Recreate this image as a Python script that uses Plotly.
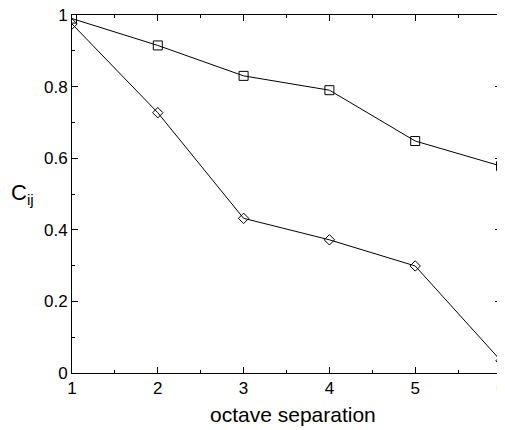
import plotly.graph_objects as go

octave = [1, 2, 3, 4, 5, 6]
squares = [0.99, 0.915, 0.83, 0.79, 0.648, 0.578]
diamonds = [0.975, 0.727, 0.432, 0.372, 0.299, 0.034]
y_ticks = [0, 0.2, 0.4, 0.6, 0.8, 1]
y_ticktext = ["0", "0.2", "0.4", "0.6", "0.8", "1"]

fig = go.Figure()
fig.add_trace(go.Scatter(x=octave, y=squares, mode="lines+markers",
                         line=dict(color="black", width=1),
                         marker=dict(symbol="square-open", size=9, color="black", line=dict(width=1))))
fig.add_trace(go.Scatter(x=octave, y=diamonds, mode="lines+markers",
                         line=dict(color="black", width=1),
                         marker=dict(symbol="diamond-open", size=8, color="black", line=dict(width=1))))

axis_common = dict(showgrid=False, zeroline=False, showline=True, linecolor="black", linewidth=1,
                   mirror="allticks", ticks="inside", tickcolor="black", ticklen=6, tickwidth=1,
                   ticklabeloverflow="allow",
                   tickfont=dict(size=17, color="black"))

fig.update_layout(
    width=497, height=422,
    margin=dict(l=64, r=4, t=7, b=57, autoexpand=False),
    paper_bgcolor="white", plot_bgcolor="white",
    font=dict(family="Liberation Sans, Arial, sans-serif", color="black"),
    showlegend=False,
    xaxis=dict(range=[1, 6], tickmode="array", tickvals=octave,
               minor=dict(ticks="inside", dtick=0.5, ticklen=3, tickcolor="black"),
               **axis_common),
    yaxis=dict(range=[0, 1], tickmode="array", tickvals=y_ticks, ticktext=y_ticktext,
               minor=dict(ticks="inside", dtick=0.1, ticklen=3, tickcolor="black"),
               **axis_common),
)
fig.add_annotation(text="C<sub>ij</sub>", xref="paper", yref="paper", x=-0.148, y=0.50,
                   xanchor="left", yanchor="middle", showarrow=False, font=dict(size=22, color="black"))
fig.add_annotation(text="octave separation", xref="paper", yref="paper", x=0.515, y=-0.117,
                   xanchor="center", yanchor="middle", showarrow=False, font=dict(size=21, color="black"))
fig.write_html("out.html")
